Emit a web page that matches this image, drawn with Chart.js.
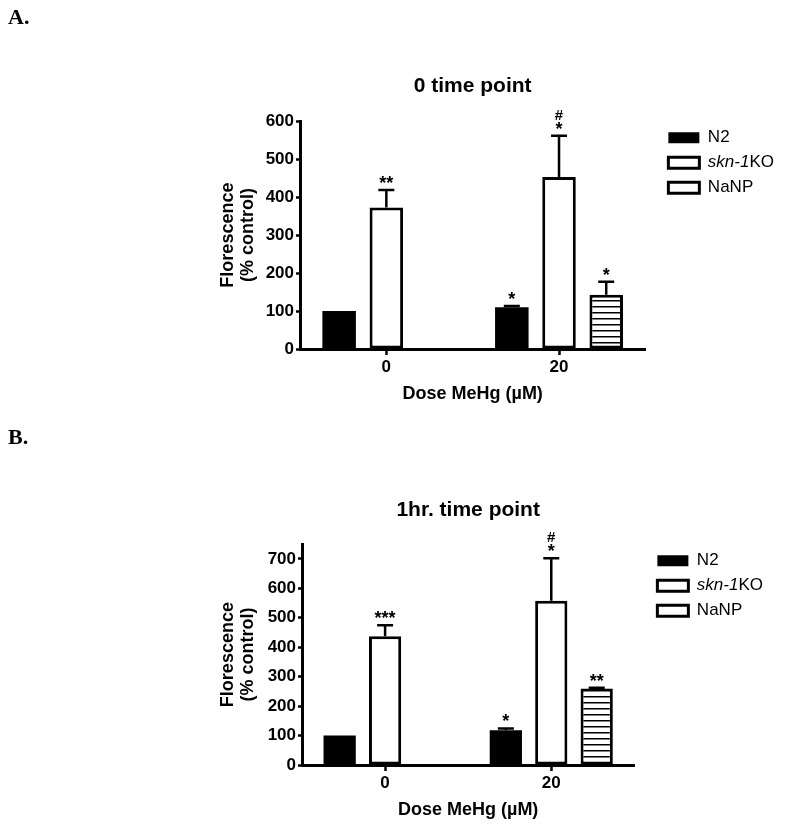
<!DOCTYPE html>
<html>
<head>
<meta charset="utf-8">
<script src="https://cdn.jsdelivr.net/npm/chart.js@4.4.1/dist/chart.umd.min.js"></script>
<style>
  body { margin: 0; background: #fff; }
  #wrap { position: relative; width: 791px; height: 828px; background: #fff; }
  .panel { position: absolute; left: 8px; font: bold 22px "Liberation Serif", "Times New Roman", serif; color: #000; }
  canvas { position: absolute; left: 0; }
</style>
</head>
<body>
<div id="wrap">
  <canvas id="chartA" width="791" height="414" style="top:0"></canvas>
  <canvas id="chartB" width="791" height="414" style="top:414px"></canvas>
  <div class="panel" style="top:4px">A.</div>
  <div class="panel" style="top:424px">B.</div>
</div>
<script>
// data

const doses = ["0", "20"];
const seriesNames = ["N2", "skn-1KO", "NaNP"];

// A. 0 time point
const n2A = [100, 110];
const sknA = [373, 453];
const nanpA = [null, 143];
const n2ErrA = [0, 3];
const sknErrA = [46, 109];
const nanpErrA = [0, 34];
const n2MarksA = ["", "*"];
const sknMarksA = ["**", "#\n*"];
const nanpMarksA = ["", "*"];
const yTicksA = [0, 100, 200, 300, 400, 500, 600];

// B. 1hr. time point
const n2B = [100, 118];
const sknB = [437, 558];
const nanpB = [null, 260];
const n2ErrB = [0, 6];
const sknErrB = [38, 144];
const nanpErrB = [0, 2];
const n2MarksB = ["", "*"];
const sknMarksB = ["***", "#\n*"];
const nanpMarksB = ["", "**"];
const yTicksB = [0, 100, 200, 300, 400, 500, 600, 700];

const FONT = "'Liberation Sans', Arial, sans-serif";
Chart.defaults.font.family = FONT;
Chart.defaults.color = "#000";

// horizontal stripes for NaNP bars
function stripes() {
  const c = document.createElement("canvas");
  c.width = 8;
  c.height = 6;
  const g = c.getContext("2d");
  g.fillStyle = "#fff";
  g.fillRect(0, 0, 8, 6);
  g.fillStyle = "#000";
  g.fillRect(0, 0, 8, 1.5);
  return g.createPattern(c, "repeat");
}

// error bars + significance marks
const errorBars = {
  id: "errorBars",
  afterDatasetsDraw(chart) {
    const ctx = chart.ctx;
    const y = chart.scales.y;
    chart.data.datasets.forEach((ds, i) => {
      const meta = chart.getDatasetMeta(i);
      meta.data.forEach((bar, j) => {
        const v = ds.data[j];
        if (v == null) return;
        const err = ds.errors[j] || 0;
        const top = y.getPixelForValue(v + err);
        ctx.save();
        ctx.strokeStyle = "#000";
        ctx.lineWidth = 2.5;
        if (err > 0) {
          ctx.beginPath();
          ctx.moveTo(bar.x, bar.y);
          ctx.lineTo(bar.x, top);
          ctx.moveTo(bar.x - 8, top);
          ctx.lineTo(bar.x + 8, top);
          ctx.stroke();
        }
        ctx.fillStyle = "#000";
        ctx.textAlign = "center";
        ctx.textBaseline = "alphabetic";
        const lines = (ds.marks[j] || "").split("\n").filter(Boolean).reverse();
        lines.forEach((t, k) => {
          ctx.font = t === "#" ? "bold 15px " + FONT : "bold 18px " + FONT;
          ctx.fillText(t, bar.x, top - 1 - k * 15);
        });
        ctx.restore();
      });
    });
  }
};

// move legend next to the plot and write "skn-1KO" with italic part
const legendTweak = {
  id: "legendTweak",
  afterLayout(chart) {
    const lg = chart.legend;
    const dx = chart.chartArea.right + 23 - 8 - lg.left;
    lg.left += dx;
    lg.right += dx;
  },
  afterDraw(chart) {
    const hb = chart.legend.legendHitBoxes[1];
    if (!hb) return;
    const ctx = chart.ctx;
    ctx.save();
    ctx.fillStyle = "#000";
    ctx.textBaseline = "middle";
    ctx.textAlign = "left";
    let x = hb.left + 31 + 8.5;
    const yy = hb.top + hb.height / 2;
    ctx.font = "italic 17px " + FONT;
    ctx.fillText("skn-1", x, yy);
    x += ctx.measureText("skn-1").width;
    ctx.font = "17px " + FONT;
    ctx.fillText("KO", x, yy);
    ctx.restore();
  }
};

function makeChart(id, title, n2, skn, nanp, errs, marks, yMax, yTicks, pad, titleGap) {
  new Chart(document.getElementById(id), {
    type: "bar",
    data: {
      labels: doses,
      datasets: [
        {
          label: seriesNames[0],
          data: n2,
          errors: errs[0],
          marks: marks[0],
          backgroundColor: "#000",
          borderColor: "#000",
          borderWidth: 0,
        },
        {
          label: seriesNames[1],
          data: skn,
          errors: errs[1],
          marks: marks[1],
          backgroundColor: "#fff",
          borderColor: "#000",
          borderWidth: 3,
        },
        {
          label: seriesNames[2],
          data: nanp,
          errors: errs[2],
          marks: marks[2],
          backgroundColor: stripes(),
          borderColor: "#000",
          borderWidth: 3,
        },
      ],
    },
    options: {
      responsive: false,
      animation: false,
      categoryPercentage: 0.82,
      barPercentage: 0.71,
      borderSkipped: false,
      layout: { padding: pad },
      plugins: {
        title: {
          display: true,
          text: title,
          fullSize: false,
          color: "#000",
          font: { size: 21, weight: "bold" },
          padding: { top: 0, bottom: titleGap },
        },
        legend: {
          position: "right",
          align: "start",
          fullSize: false,
          labels: {
            boxWidth: 31,
            boxHeight: 11,
            padding: 8,
            color: "#000",
            font: { size: 17 },
            generateLabels: (chart) =>
              chart.data.datasets.map((ds, i) => ({
                text: ds.label,
                fillStyle: i === 0 ? "#000" : "#fff",
                strokeStyle: "#000",
                lineWidth: i === 0 ? 0 : 3,
                fontColor: i === 1 ? "rgba(0,0,0,0)" : "#000",
                hidden: false,
                datasetIndex: i,
              })),
          },
        },
        tooltip: { enabled: false },
      },
      scales: {
        x: {
          grid: {
            display: true,
            drawOnChartArea: false,
            offset: false,
            tickLength: 6,
            tickWidth: 2.5,
            color: "#000",
          },
          border: { color: "#000", width: 3 },
          ticks: { color: "#000", padding: 2, font: { size: 17, weight: "bold" } },
          title: {
            display: true,
            text: "Dose MeHg (µM)",
            color: "#000",
            font: { size: 18, weight: "bold" },
            padding: { top: 4, bottom: 0 },
          },
        },
        y: {
          min: 0,
          max: yMax,
          afterFit: (s) => { s.width = pad.yw; },
          afterBuildTicks: (s) => { s.ticks = yTicks.map((v) => ({ value: v })); },
          grid: {
            drawOnChartArea: false,
            tickLength: 4,
            tickWidth: 2.5,
            color: "#000",
          },
          border: { color: "#000", width: 3 },
          ticks: { color: "#000", padding: 2, font: { size: 17, weight: "bold" } },
          title: {
            display: true,
            text: ["Florescence", "(% control)"],
            color: "#000",
            font: { size: 18, weight: "bold", lineHeight: 1.1 },
            padding: 0,
          },
        },
      },
    },
    plugins: [errorBars, legendTweak],
  });
}

makeChart("chartA", "0 time point", n2A, sknA, nanpA,
  [n2ErrA, sknErrA, nanpErrA], [n2MarksA, sknMarksA, nanpMarksA],
  600, yTicksA, { top: 74, left: 218, right: 22, bottom: 9, yw: 82 }, 22);

makeChart("chartB", "1hr. time point", n2B, sknB, nanpB,
  [n2ErrB, sknErrB, nanpErrB], [n2MarksB, sknMarksB, nanpMarksB],
  750, yTicksB, { top: 84, left: 218, right: 33, bottom: 7, yw: 84 }, 21);
</script>
</body>
</html>
